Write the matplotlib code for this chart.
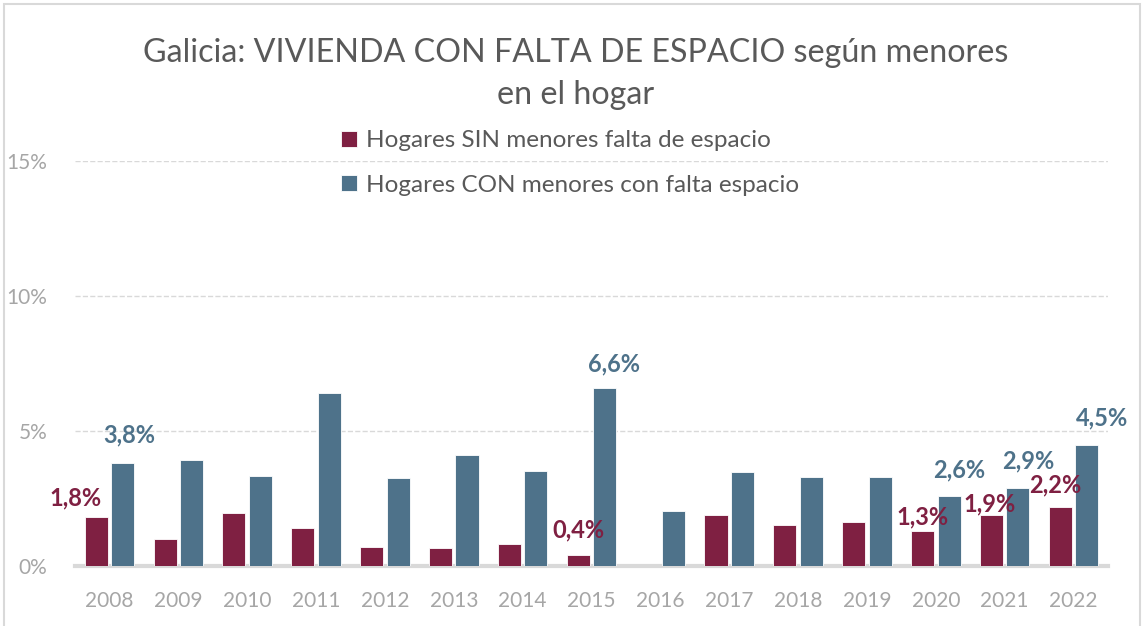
import matplotlib.pyplot as plt
import matplotlib.patches as mpatches
import numpy as np

# Datos (%)
years = ['2008', '2009', '2010', '2011', '2012', '2013', '2014', '2015',
         '2016', '2017', '2018', '2019', '2020', '2021', '2022']
sin_menores = [1.8, 1.0, 1.95, 1.4, 0.7, 0.65, 0.8, 0.4,
               0.0, 1.88, 1.52, 1.62, 1.3, 1.9, 2.2]
con_menores = [3.8, 3.92, 3.35, 6.4, 3.25, 4.12, 3.53, 6.6,
               2.02, 3.5, 3.3, 3.3, 2.6, 2.9, 4.5]
# indices de las barras con etiqueta
sin_labels = [0, 7, 12, 13, 14]
con_labels = [0, 7, 12, 13, 14]
yticks = [0, 5, 10, 15]

# desplazamiento de las etiquetas (px) respecto al extremo de la barra
sin_off = [(-21, 19), (0, 25), (0, 14), (-2, 11), (-5, 22)]
con_off = [(7, 28), (9, 24), (10, 26), (10, 27), (15, 27)]

col_sin = '#7F2042'
col_con = '#4E728A'
grey = '#A6A6A6'

plt.rcParams['font.family'] = ['Lato', 'DejaVu Sans']

fig = plt.figure(figsize=(11.44, 6.26), dpi=100)
ax = fig.add_axes([75 / 1144, 60 / 626, (1108 - 75) / 1144, (566 - 161) / 626])

x = np.arange(len(years))
w = 0.335
gap = 0.025
b1 = ax.bar(x - w / 2 - gap, sin_menores, w, color=col_sin, edgecolor='white',
            linewidth=0.6, label='Hogares SIN menores falta de espacio', zorder=3)
b2 = ax.bar(x + w / 2 + gap, con_menores, w, color=col_con, edgecolor='white',
            linewidth=0.6, label='Hogares CON menores con falta espacio', zorder=3)

def fmt(v):
    return f'{v:.1f}%'.replace('.', ',')

for i, (dx, dy) in zip(sin_labels, sin_off):
    ax.annotate(fmt(sin_menores[i]), (x[i] - w / 2 - gap, sin_menores[i]),
                xytext=(dx * 0.72, dy * 0.72), textcoords='offset points',
                ha='center', va='center', color=col_sin, fontsize=17,
                fontweight='bold', zorder=4)
for i, (dx, dy) in zip(con_labels, con_off):
    ax.annotate(fmt(con_menores[i]), (x[i] + w / 2 + gap, con_menores[i]),
                xytext=(dx * 0.72, dy * 0.72), textcoords='offset points',
                ha='center', va='center', color=col_con, fontsize=17,
                fontweight='bold', zorder=4)

ax.set_xlim(-0.5, len(years) - 0.5)
ax.set_ylim(0, 15)
ax.set_yticks(yticks)
ax.set_yticklabels([f'{t}%' for t in yticks])
ax.set_xticks(x)
ax.set_xticklabels(years)
ax.tick_params(axis='both', length=0, colors=grey, labelsize=15)
ax.tick_params(axis='x', pad=18)
ax.tick_params(axis='y', pad=20)

ax.grid(axis='y', color='#D9D9D9', linestyle='--', linewidth=1, zorder=0)
for s in ['top', 'right', 'left']:
    ax.spines[s].set_visible(False)
ax.spines['bottom'].set_color('#D9D9D9')
ax.spines['bottom'].set_linewidth(3)
ax.spines['bottom'].set_zorder(2)

fig.text(0.503, 1 - 74 / 626, 'Galicia: VIVIENDA CON FALTA DE ESPACIO según menores\nen el hogar',
         ha='center', va='center', fontsize=23.2, color='#595959', linespacing=1.5)

leg = fig.legend(handles=[b1, b2], loc='center', bbox_to_anchor=(570 / 1144, 1 - 163 / 626),
                 ncol=1, frameon=False, fontsize=17.5, labelcolor='#595959',
                 handlelength=0.65, handleheight=0.65, handletextpad=0.35, labelspacing=0.95)

# marco exterior del grafico
fig.patches.append(mpatches.Rectangle((4 / 1144, -0.05), 1136 / 1144, 1.05 - 4 / 626,
                                      transform=fig.transFigure, fill=False,
                                      edgecolor='#D9D9D9', linewidth=1.5))

plt.savefig('out.png', dpi=100)
